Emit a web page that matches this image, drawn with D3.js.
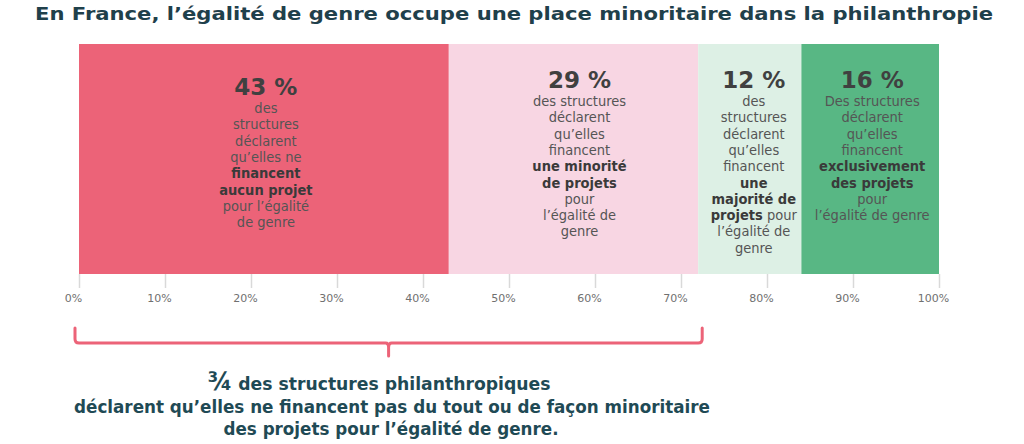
<!DOCTYPE html>
<html>
<head>
<meta charset="utf-8">
<script src="https://cdn.jsdelivr.net/npm/d3@7"></script>
<style>
  body { margin: 0; background: #fff; }
  svg { display: block; }
</style>
</head>
<body>
<svg id="chart"></svg>
<script>
// Data
const categories = ['aucun', 'minorite', 'majorite', 'exclusivement'];
const values = [43, 29, 12, 16];
const colors = ['#ec6378', '#f8d6e3', '#ddf0e5', '#58b784'];
const valueLabels = ['43 %', '29 %', '12 %', '16 %'];
// ** marks bold parts
const bodyLines = [
    ['des', 'structures', 'déclarent', 'qu’elles ne', '**financent**', '**aucun projet**', 'pour l’égalité', 'de genre'],
    ['des structures', 'déclarent', 'qu’elles', 'financent', '**une minorité**', '**de projets**', 'pour', 'l’égalité de', 'genre'],
    ['des', 'structures', 'déclarent', 'qu’elles', 'financent', '**une**', '**majorité de**', '**projets** pour', 'l’égalité de', 'genre'],
    ['Des structures', 'déclarent', 'qu’elles', 'financent', '**exclusivement**', '**des projets**', 'pour', 'l’égalité de genre']
];
const tickValues = [0, 10, 20, 30, 40, 50, 60, 70, 80, 90, 100];
const bracketRange = [0, 72];
const title = 'En France, l’égalité de genre occupe une place minoritaire dans la philanthropie';
const footLines = ['des structures philanthropiques', 'déclarent qu’elles ne financent pas du tout ou de façon minoritaire', 'des projets pour l’égalité de genre.'];

const width = 1024, height = 444;
const margin = { top: 44, left: 79, right: 85 };
const barHeight = 230;

const svg = d3.select('#chart')
    .attr('width', width)
    .attr('height', height);

const x = d3.scaleLinear()
    .domain([0, 100])
    .range([margin.left, width - margin.right]);

// Title
svg.append('text')
    .attr('x', 514)
    .attr('y', 20)
    .attr('text-anchor', 'middle')
    .attr('textLength', 958)
    .attr('lengthAdjust', 'spacingAndGlyphs')
    .style('font-family', 'DejaVu Sans')
    .style('font-weight', 'bold')
    .style('font-size', '18.5px')
    .style('fill', '#1f404b')
    .text(title);

// stacked segments
let cum = 0;
const segs = values.map((v, i) => {
    const s = { key: categories[i], start: cum, end: cum + v, i: i };
    cum += v;
    return s;
});

const chart = svg.append('g');

// axis
const xAxis = d3.axisBottom(x)
    .tickValues(tickValues)
    .tickFormat(d => d + '%')
    .tickSize(14)
    .tickPadding(6);

const axisG = svg.append('g')
    .attr('transform', `translate(0, ${margin.top + barHeight})`)
    .call(xAxis);
axisG.select('.domain').remove();
axisG.selectAll('.tick line').attr('stroke', '#d9d9d9').attr('stroke-width', 1.5);
axisG.selectAll('.tick text')
    .attr('dx', -6)
    .style('font-family', 'DejaVu Sans')
    .style('font-size', '11px')
    .style('fill', '#707070');

chart.selectAll('.seg')
    .data(segs)
    .enter()
    .append('rect')
    .attr('class', 'seg')
    .attr('x', d => x(d.start))
    .attr('y', margin.top)
    .attr('width', d => x(d.end) - x(d.start))
    .attr('height', barHeight)
    .attr('fill', d => colors[d.i]);

// labels in bars
const topY = [95, 88, 88, 88];
const lineH = 16.3;
segs.forEach(s => {
    const cx = (x(s.start) + x(s.end)) / 2 + (s.i === 1 ? 6 : s.i === 2 ? 4 : 2);
    const g = chart.append('g');
    g.append('text')
        .attr('x', cx)
        .attr('y', topY[s.i])
        .attr('text-anchor', 'middle')
        .style('font-family', 'DejaVu Sans')
        .style('font-weight', 'bold')
        .style('font-size', '23px')
        .style('fill', '#404040')
        .text(valueLabels[s.i]);

    bodyLines[s.i].forEach((line, j) => {
        const t = g.append('text')
            .attr('x', cx)
            .attr('y', topY[s.i] + 18 + j * lineH)
            .attr('text-anchor', 'middle')
            .style('font-family', 'DejaVu Sans Condensed, DejaVu Sans')
            .style('font-size', '14.5px');
        line.split('**').forEach((part, k) => {
            if (!part) return;
            t.append('tspan')
                .style('font-weight', k % 2 === 1 ? 'bold' : 'normal')
                .style('fill', k % 2 === 1 ? '#3a3a3a' : '#555555')
                .text(part);
        });
    });
});

// bracket
const bx0 = x(bracketRange[0]) - 4, bx1 = x(bracketRange[1]) + 4;
const by0 = 328, by1 = 343, r = 4;
const bmid = (bx0 + bx1) / 2;
svg.append('path')
    .attr('d', `M${bx0},${by0} V${by1 - r} Q${bx0},${by1} ${bx0 + r},${by1} H${bmid - 3} Q${bmid},${by1} ${bmid},${by1 + 4} V${by1 + 13} M${bmid},${by1 + 4} Q${bmid},${by1} ${bmid + 3},${by1} H${bx1 - r} Q${bx1},${by1} ${bx1},${by1 - r} V${by0}`)
    .attr('fill', 'none')
    .attr('stroke', '#ec6378')
    .attr('stroke-width', 3)
    .attr('stroke-linecap', 'round');

// footnote text
const foot = svg.append('g')
    .style('font-family', 'DejaVu Sans Condensed, DejaVu Sans')
    .style('font-weight', 'bold')
    .style('fill', '#1f4a55')
    .attr('text-anchor', 'middle');

const l1 = foot.append('text')
    .attr('x', 379)
    .attr('y', 390)
    .attr('textLength', 343)
    .attr('lengthAdjust', 'spacingAndGlyphs')
    .style('font-size', '18px');
l1.append('tspan').style('font-size', '25px').text('¾');
l1.append('tspan').text(' ' + footLines[0]);

foot.append('text')
    .attr('x', 392)
    .attr('y', 413)
    .attr('textLength', 636)
    .attr('lengthAdjust', 'spacingAndGlyphs')
    .style('font-size', '18px')
    .text(footLines[1]);

foot.append('text')
    .attr('x', 391)
    .attr('y', 435)
    .attr('textLength', 335)
    .attr('lengthAdjust', 'spacingAndGlyphs')
    .style('font-size', '18px')
    .text(footLines[2]);
</script>
</body>
</html>
